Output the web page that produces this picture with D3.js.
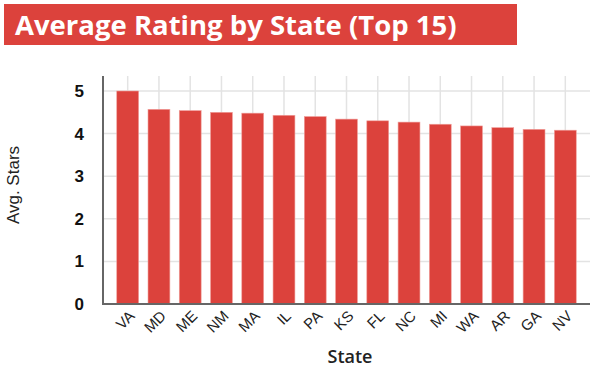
<!DOCTYPE html>
<html>
<head>
<meta charset="utf-8">
<script src="https://cdn.jsdelivr.net/npm/d3@7.9.0/dist/d3.min.js"></script>
<style>
  body { margin: 0; background: #fff; }
  svg { display: block; }
</style>
</head>
<body>
<svg id="chart" width="594" height="382"></svg>
<script>
// data
const states = ['VA', 'MD', 'ME', 'NM', 'MA', 'IL', 'PA', 'KS', 'FL', 'NC', 'MI', 'WA', 'AR', 'GA', 'NV'];
const avgStars = [5.0, 4.57, 4.54, 4.50, 4.48, 4.43, 4.40, 4.34, 4.30, 4.27, 4.22, 4.18, 4.14, 4.10, 4.08];
const yTicks = [0, 1, 2, 3, 4, 5];

const red = '#dc423c';
const svg = d3.select('#chart');

// title banner
svg.append('rect')
  .attr('x', 4).attr('y', 4).attr('width', 513).attr('height', 41)
  .attr('fill', red);
svg.append('text')
  .attr('x', 15).attr('y', 35)
  .attr('fill', '#fff')
  .style('font-family', '"Open Sans", sans-serif')
  .style('font-weight', 700)
  .style('font-size', '27.5px')
  .text('Average Rating by State (Top 15)');

const plotLeft = 103, plotRight = 590, plotTop = 76, plotBottom = 304;

let x = d3.scaleBand()
  .domain(states)
  .range([plotLeft, plotRight])
  .paddingInner(0.3)
  .paddingOuter(0.44);

let y = d3.scaleLinear()
  .domain([0, 5])
  .range([plotBottom, 91]);

// gridlines
svg.append('g')
  .selectAll('line')
  .data(yTicks.filter(d => d > 0))
  .join('line')
  .attr('x1', plotLeft).attr('x2', plotRight)
  .attr('y1', d => y(d)).attr('y2', d => y(d))
  .attr('stroke', '#e3e3e3').attr('stroke-width', 1.5);

svg.append('g')
  .selectAll('line')
  .data(states)
  .join('line')
  .attr('x1', d => x(d) + x.bandwidth() / 2)
  .attr('x2', d => x(d) + x.bandwidth() / 2)
  .attr('y1', plotTop).attr('y2', plotBottom)
  .attr('stroke', '#e3e3e3').attr('stroke-width', 1.5);

// bars
svg.append('g')
  .selectAll('rect')
  .data(states)
  .join('rect')
  .attr('x', d => x(d))
  .attr('y', (d, i) => y(avgStars[i]))
  .attr('width', x.bandwidth())
  .attr('height', (d, i) => plotBottom - y(avgStars[i]))
  .attr('fill', red)
  .attr('stroke', '#f0a09c')
  .attr('stroke-width', 0.6);

// axes lines
svg.append('line')
  .attr('x1', plotLeft).attr('x2', plotLeft).attr('y1', plotTop).attr('y2', plotBottom)
  .attr('stroke', '#666').attr('stroke-width', 2);
svg.append('line')
  .attr('x1', plotLeft - 1).attr('x2', plotRight).attr('y1', plotBottom).attr('y2', plotBottom)
  .attr('stroke', '#666').attr('stroke-width', 2);

// y tick labels
svg.append('g')
  .selectAll('text')
  .data(yTicks)
  .join('text')
  .attr('x', 84)
  .attr('y', d => y(d) + 6)
  .attr('text-anchor', 'end')
  .style('font-family', '"Liberation Sans", Arial, sans-serif')
  .style('font-weight', 'bold')
  .style('font-size', '17px')
  .attr('fill', '#111')
  .text(d => d);

// x tick labels
svg.append('g')
  .selectAll('text')
  .data(states)
  .join('text')
  .attr('transform', d => `translate(${x(d) + x.bandwidth() / 2 + 8},${plotBottom + 13}) rotate(-45)`)
  .attr('text-anchor', 'end')
  .style('font-family', '"Liberation Sans", Arial, sans-serif')
  .style('font-size', '15px')
  .attr('fill', '#222')
  .text(d => d);

// axis titles
svg.append('text')
  .attr('transform', 'translate(19,185) rotate(-90)')
  .attr('text-anchor', 'middle')
  .style('font-family', '"Liberation Sans", Arial, sans-serif')
  .style('font-size', '17px')
  .attr('fill', '#222')
  .text('Avg. Stars');

svg.append('text')
  .attr('x', 350).attr('y', 363)
  .attr('text-anchor', 'middle')
  .style('font-family', '"Open Sans", sans-serif')
  .style('font-weight', 600)
  .style('font-size', '18px')
  .attr('fill', '#222')
  .text('State');
</script>
</body>
</html>
